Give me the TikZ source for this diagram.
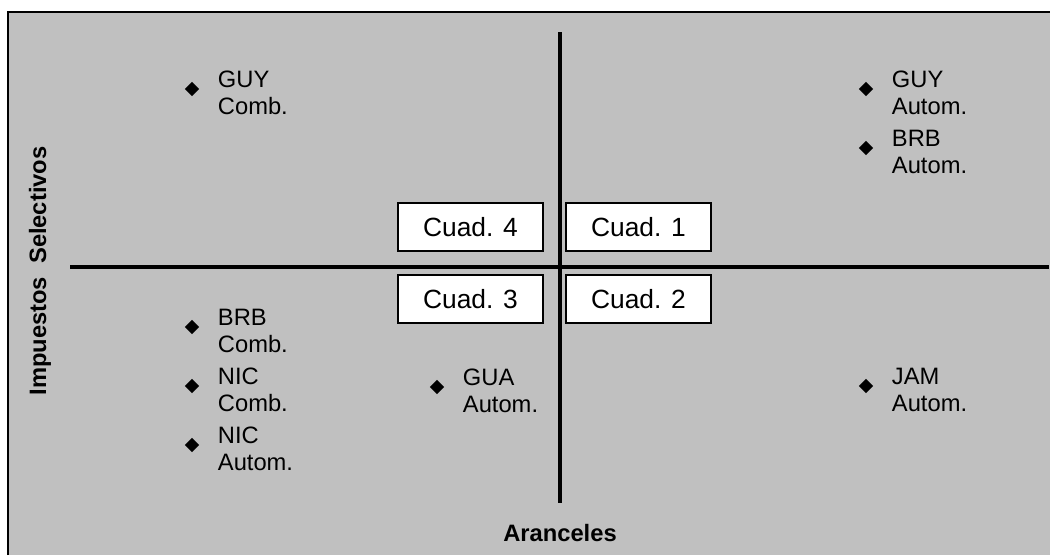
\documentclass[tikz,border=0pt]{standalone}
\usepackage{fontspec}
\setmainfont{Liberation Sans}
\usepackage{tikz}
\usetikzlibrary{positioning,shapes.geometric}
\definecolor{bggray}{RGB}{192,192,192}
\tikzset{
    pt/.style={diamond,fill=black,inner sep=0pt,minimum size=0.29cm},
    lbl/.style={align=left,inner sep=0pt,font=\fontsize{13.5}{15.4}\selectfont},
    cuad/.style={draw,fill=white,line width=1.3pt,minimum width=2.9cm,minimum height=0.96cm,inner sep=0pt,font=\fontsize{15}{18}\selectfont},
    axis/.style={line width=2.2pt},
    ttl/.style={font=\fontsize{13.5}{16}\selectfont\bfseries}
}

\begin{document}
\begin{tikzpicture}[x=0.02cm,y=-0.02cm]
    \useasboundingbox (0,0) rectangle (1050,555);
    \fill[bggray] (8,12) rectangle (1050,555);
    \draw[line width=0.7pt] (8,555) -- (8,12) -- (1050,12);

    \coordinate (w) at (70,267);
    \coordinate (e) at (1049,267);
    \coordinate (n) at (560,32);
    \coordinate (s) at (560,503);
    \draw[axis] (w) -- (e);
    \draw[axis] (n) -- (s);

    \node[cuad] (c4) at (470.5,227) {Cuad. 4};
    \node[cuad] (c1) at (638.5,227) {Cuad. 1};
    \node[cuad] (c3) at (470.5,299) {Cuad. 3};
    \node[cuad] (c2) at (638.5,299) {Cuad. 2};

    \node[ttl] (aran) at (560,533) {Aranceles};
    \node[ttl,rotate=90] (imp) at (40,271) {Impuestos\ \ Selectivos};

    \node[pt] (guyc) at (192,89) {};
    \node[pt] (brbc) at (192,327) {};
    \node[pt] (nicc) at (192,386) {};
    \node[pt] (nica) at (192,445) {};
    \node[pt] (guaa) at (437,387) {};
    \node[pt] (guya) at (866,89) {};
    \node[pt] (brba) at (866,148) {};
    \node[pt] (jama) at (866,386) {};

    \node[lbl,right=0.36cm of guyc,yshift=-0.08cm] (guycl) {GUY\\Comb.};
    \node[lbl,right=0.36cm of brbc,yshift=-0.08cm] (brbcl) {BRB\\Comb.};
    \node[lbl,right=0.36cm of nicc,yshift=-0.08cm] (niccl) {NIC\\Comb.};
    \node[lbl,right=0.36cm of nica,yshift=-0.08cm] (nical) {NIC\\Autom.};
    \node[lbl,right=0.36cm of guaa,yshift=-0.08cm] (guaal) {GUA\\Autom.};
    \node[lbl,right=0.36cm of guya,yshift=-0.08cm] (guyal) {GUY\\Autom.};
    \node[lbl,right=0.36cm of brba,yshift=-0.08cm] (brbal) {BRB\\Autom.};
    \node[lbl,right=0.36cm of jama,yshift=-0.08cm] (jamal) {JAM\\Autom.};
\end{tikzpicture}
\end{document}
